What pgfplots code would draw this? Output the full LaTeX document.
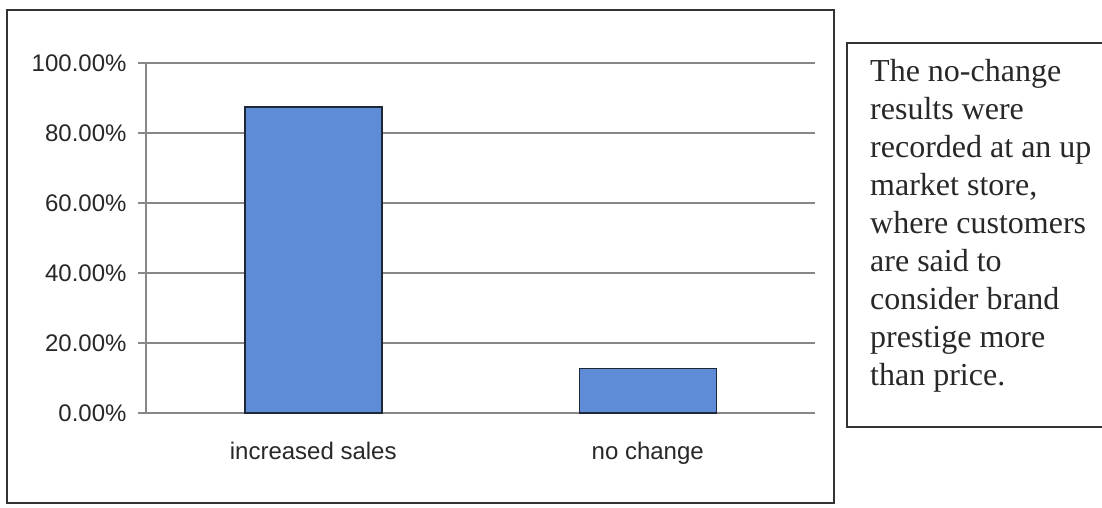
\documentclass[border=0pt]{standalone}
\usepackage{fontspec}
\setmainfont{Liberation Serif}
\setsansfont{Liberation Sans}
\usepackage{pgfplots}
\pgfplotsset{compat=1.18}
\definecolor{barblue}{RGB}{94,140,214}
\definecolor{baredge}{RGB}{30,40,55}
\definecolor{gridgray}{RGB}{135,135,135}
\definecolor{txt}{RGB}{40,40,40}
\begin{document}
\begin{tikzpicture}[x=1pt,y=1pt]
\useasboundingbox (0,0) rectangle (1102,507);
\fill[white] (0,0) rectangle (1102,507);
% outer chart frame
\draw[line width=1.6pt, color=black!80] (7,4) rectangle (834,497);
% text box
\draw[line width=1.6pt, color=black!80] (847,80) rectangle (1115,464);
\begin{axis}[
  at={(146pt,94pt)}, anchor=south west,
  scale only axis, width=669pt, height=350pt,
  xmin=-0.5, xmax=1.5, ymin=0, ymax=100,
  axis x line*=bottom, axis y line*=left,
  axis line style={gridgray, line width=1.3pt, -},
  xtick={0,1},
  xticklabels={increased sales, no change},
  major x tick style={draw=none},
  extra x ticks={-0.5,0.5,1.5},
  extra x tick labels={},
  extra x tick style={major tick length=9pt, tick align=outside, tick style={gridgray, line width=1.3pt}},
  ytick={0,20,40,60,80,100},
  yticklabels={0.00\%,20.00\%,40.00\%,60.00\%,80.00\%,100.00\%},
  ymajorgrids,
  grid style={gridgray, line width=1.3pt},
  major y tick style={gridgray, line width=1.3pt},
  tick align=outside, major tick length=8pt,
  /pgf/number format/assume math mode=true,
  ticklabel style={font=\sffamily\fontsize{24}{28}\selectfont, text=txt},
  yticklabel style={xshift=-8pt},
  xticklabel style={yshift=-18pt},
  ybar, bar width=137pt,
  clip=false,
]
\addplot[fill=barblue, draw=baredge, line width=1.5pt] coordinates {(0,87.5) (1,12.7)};
\end{axis}
\begin{scope}[every node/.style={anchor=base west, inner sep=0pt, font=\fontsize{32}{38}\selectfont, text=txt}]
\node at (870,425.0) {The no-change};
\node at (870,387.1) {results were};
\node at (870,349.2) {recorded at an up};
\node at (870,311.3) {market store,};
\node at (870,273.4) {where customers};
\node at (870,235.5) {are said to};
\node at (870,197.6) {consider brand};
\node at (870,159.7) {prestige more};
\node at (870,121.8) {than price.};
\end{scope}
\end{tikzpicture}
\end{document}
